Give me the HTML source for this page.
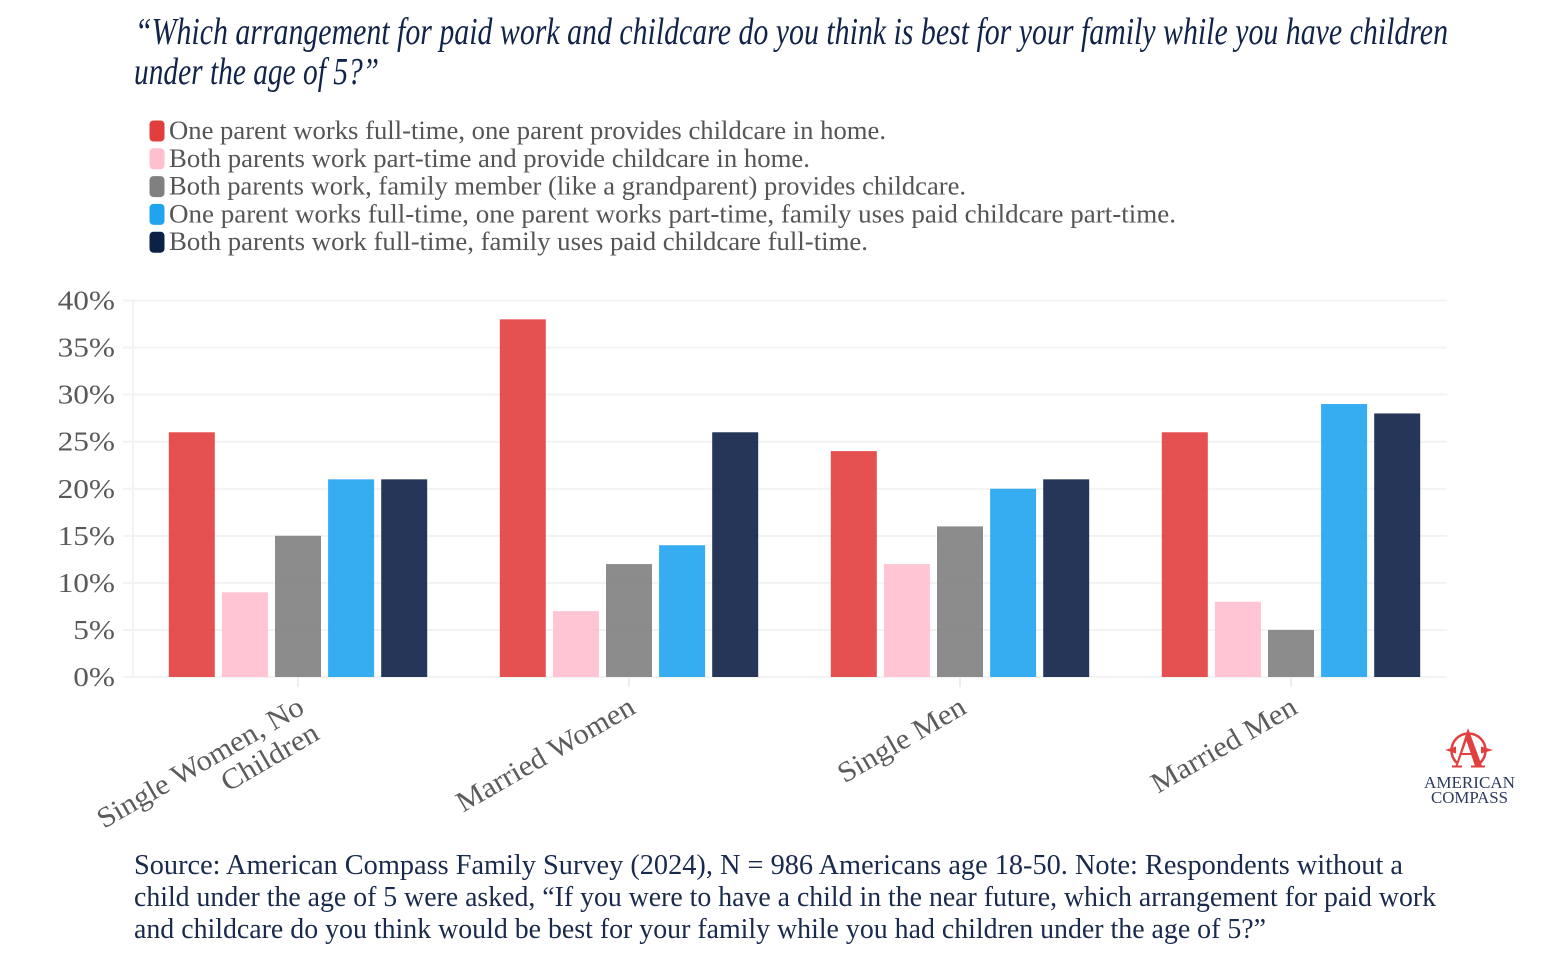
<!DOCTYPE html>
<html lang="en">
<head>
<meta charset="utf-8">
<title>Arrangement for paid work and childcare</title>
<style>
html,body{margin:0;padding:0;background:#fff;}
body{width:1568px;height:978px;overflow:hidden;}
svg{display:block;font-family:"Liberation Serif",serif;}
</style>
</head>
<body>
<svg id="chart" width="1568" height="978" viewBox="0 0 1568 978" xmlns="http://www.w3.org/2000/svg">
  <g font-style="italic" font-size="38" fill="#12234a">
    <text x="135" y="44" textLength="1313" lengthAdjust="spacingAndGlyphs">“Which arrangement for paid work and childcare do you think is best for your family while you have children</text>
    <text x="134" y="84" textLength="245" lengthAdjust="spacingAndGlyphs">under the age of 5?”</text>
  </g>
  <g id="legend"></g>
  <g id="grid"></g>
  <g id="yaxis"></g>
  <g id="bars"></g>
  <g id="xaxis"></g>
  <g>
    <path d="M1457 763 A17 17 0 1 1 1480 763" fill="none" stroke="#e23f3f" stroke-width="2.500"/>
    <path d="M1445 750 L1456 746.500 L1456 753.500 Z M1493 750 L1481 746.500 L1481 753.500 Z" fill="#e23f3f"/>
    <path d="M1468 728 L1482 766 L1475 766 L1466.500 741 L1457.500 766 L1455.500 766 Z M1460 753 H1475 V755 H1460 Z M1452 765.500 H1462 V767.500 H1452 Z M1471 765.500 H1485 V767.500 H1471 Z" fill="#e23f3f"/>
    <text x="1424" y="788" font-size="16.500" fill="#2c3a5e" textLength="91" lengthAdjust="spacingAndGlyphs">AMERICAN</text>
    <text x="1431" y="803" font-size="16.500" fill="#2c3a5e" textLength="77" lengthAdjust="spacingAndGlyphs">COMPASS</text>
  </g>
  <g font-size="29" fill="#1a2a4c">
    <text x="134" y="874" textLength="1269" lengthAdjust="spacingAndGlyphs">Source: American Compass Family Survey (2024), N = 986 Americans age 18-50.  Note: Respondents without a</text>
    <text x="134" y="906" textLength="1302" lengthAdjust="spacingAndGlyphs">child under the age of 5 were asked, “If you were to have a child in the near future, which arrangement for paid work</text>
    <text x="134" y="938" textLength="1132" lengthAdjust="spacingAndGlyphs">and childcare do you think would be best for your family while you had children under the age of 5?”</text>
  </g>
</svg>
<script>
const categories = ["Single Women, No|Children", "Married Women", "Single Men", "Married Men"];
const seriesNames = [
  "One parent works full-time, one parent provides childcare in home.",
  "Both parents work part-time and provide childcare in home.",
  "Both parents work, family member (like a grandparent) provides childcare.",
  "One parent works full-time, one parent works part-time, family uses paid childcare part-time.",
  "Both parents work full-time, family uses paid childcare full-time."
];
const homeCare = [26, 38, 24, 26];
const partTimeBoth = [9, 7, 12, 8];
const familyMember = [15, 12, 16, 5];
const mixedPaid = [21, 14, 20, 29];
const fullTimePaid = [21, 26, 21, 28];
const yTicks = [0, 5, 10, 15, 20, 25, 30, 35, 40];

const seriesValues = [homeCare, partTimeBoth, familyMember, mixedPaid, fullTimePaid];
const colors = ["#e23e3e", "#ffbfcf", "#808080", "#20a4f0", "#0d2046"];
const NS = "http://www.w3.org/2000/svg";
const plot = {left: 133, right: 1447, top: 300.5, bottom: 677, firstCenter: 298, band: 331, barW: 46, step: 53.1};
function yScale(v) {
  return plot.bottom - (v - yTicks[0]) / (yTicks[yTicks.length - 1] - yTicks[0]) * (plot.bottom - plot.top);
}
function xCenter(i) {
  return plot.firstCenter + i * plot.band;
}
function barX(i, s) {
  return xCenter(i) + (s - (seriesValues.length - 1) / 2) * plot.step - plot.barW / 2;
}
function make(tag, attrs, parent) {
  const el = document.createElementNS(NS, tag);
  for (const k in attrs) el.setAttribute(k, attrs[k]);
  parent.appendChild(el);
  return el;
}

const legend = document.getElementById("legend");
const legendWidths = [717, 641, 797, 1007, 699];
seriesNames.forEach(function (name, s) {
  const y = 131 + s * 27.8;
  const sw = make("rect", {x: 149.500, y: y - 10.500, width: 15, height: 21, rx: 4, fill: colors[s]}, legend);
  
  
  const t = make("text", {x: 169, y: y + 8, "font-size": 26, fill: "#555", textLength: legendWidths[s], lengthAdjust: "spacingAndGlyphs"}, legend);
  t.textContent = name;
  
  
});

const grid = document.getElementById("grid");
const yaxis = document.getElementById("yaxis");
yTicks.forEach(function (v) {
  const y = yScale(v);
  const l = make("line", {x1: 123, x2: plot.right, y1: y, y2: y, stroke: "#f3f3f3", "stroke-width": 2}, grid);
  
  
  const t = make("text", {x: 0, y: 0, transform: "translate(115 " + (y + 9) + ") scale(1.16 1)", "text-anchor": "end", "font-size": 27, fill: "#595959"}, yaxis);
  t.textContent = v + "%";
  
  
});
const vl = make("line", {x1: plot.left, x2: plot.left, y1: plot.top, y2: plot.bottom, stroke: "#f3f3f3", "stroke-width": 2}, grid);



const bars = document.getElementById("bars");
seriesValues.forEach(function (vals, s) {
  vals.forEach(function (v, i) {
    const r = make("rect", {x: barX(i, s), y: yScale(v), width: plot.barW, height: plot.bottom - yScale(v), fill: colors[s], "fill-opacity": 0.9}, bars);
    
    
  });
});

const xaxis = document.getElementById("xaxis");
categories.forEach(function (c, i) {
  const x = xCenter(i);
  const tick = make("line", {x1: x, x2: x, y1: plot.bottom, y2: plot.bottom + 10, stroke: "#eeeeee", "stroke-width": 2}, xaxis);
  
  
  const lines = c.split("|");
  const g = make("g", {transform: "translate(" + (x - 2) + " 695) rotate(-30) scale(1.06 1)"}, xaxis);
  
  
  lines.forEach(function (line, n) {
    const t = make("text", {x: 0, y: 20 + n * 30, "text-anchor": "end", "font-size": 29, fill: "#5c5c5c"}, g);
    t.textContent = line;
    
    
  });
});
</script>
</body>
</html>
